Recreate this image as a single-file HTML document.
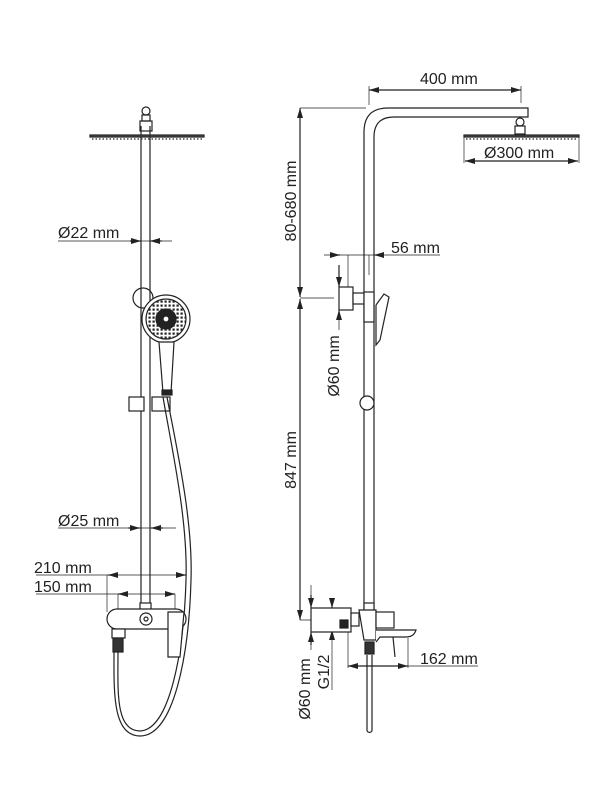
<!DOCTYPE html>
<html><head><meta charset="utf-8"><style>
html,body{margin:0;padding:0;background:#fff}
svg{display:block}
text{font-family:"Liberation Sans",sans-serif;font-size:16px;fill:#222}
</style></head><body>
<svg width="612" height="800" viewBox="0 0 612 800" xmlns="http://www.w3.org/2000/svg">
<defs>
<marker id="a" viewBox="0 0 10 6" refX="10" refY="3" markerWidth="10" markerHeight="6" orient="auto-start-reverse" markerUnits="userSpaceOnUse"><path d="M0,0L10,3L0,6z" fill="#222"/></marker>
<pattern id="dots" width="4" height="4" patternUnits="userSpaceOnUse"><rect width="4" height="4" fill="#fff"/><rect x="0.5" y="0.5" width="2.2" height="2.2" fill="#222"/></pattern>
</defs>
<g fill="none" stroke="#222" stroke-width="1.2">
<line x1="141" y1="126" x2="141" y2="610"/><line x1="150" y1="126" x2="150" y2="610"/>
<circle cx="146" cy="111" r="4"/><rect x="142" y="115" width="8" height="6"/><rect x="140" y="121" width="12" height="10"/>
<rect x="90" y="135" width="114" height="2" fill="#555"/>
<line x1="92" y1="139" x2="202" y2="139" stroke-dasharray="1.5 2"/>
<line x1="58" y1="241" x2="172" y2="241" stroke-width="0.7"/>
<path d="M130,241 L141,241" marker-end="url(#a)"/><path d="M162,241 L150,241" marker-end="url(#a)"/>
<circle cx="143" cy="298" r="10"/>
<circle cx="166" cy="319" r="24" fill="#fff"/>
<circle cx="166" cy="319" r="20" fill="url(#dots)"/>
<circle cx="166" cy="319" r="10" fill="#222"/>
<circle cx="166" cy="319" r="3" fill="#fff"/>
<path d="M159,342 L174,342 L171,393 L163,393 Z" fill="#fff"/>
<rect x="162" y="390" width="10" height="5" fill="#222"/>
<rect x="129" y="397" width="15" height="14" fill="#fff"/><rect x="152" y="397" width="18" height="14" fill="#fff"/>
<path d="M163,397 C172,450 188,520 186,580 C184,650 170,730 140,731 C115,731 118,690 118,652"/>
<path d="M167,397 C177,450 193,520 191,580 C189,655 174,736 140,736 C112,736 114,690 114,652"/>
<line x1="58" y1="528" x2="176" y2="528" stroke-width="0.7"/>
<path d="M128,528 L140,528" marker-end="url(#a)"/><path d="M163,528 L151,528" marker-end="url(#a)"/>
<line x1="36" y1="575" x2="186" y2="575" stroke-width="0.7"/>
<path d="M108,575 L118,575" marker-start="url(#a)"/><path d="M176,575 L186,575" marker-end="url(#a)"/>
<line x1="107" y1="575" x2="107" y2="612" stroke-width="0.7"/>
<line x1="36" y1="594" x2="175" y2="594" stroke-width="0.7"/>
<path d="M118,594 L128,594" marker-start="url(#a)"/><path d="M165,594 L175,594" marker-end="url(#a)"/>
<line x1="118" y1="594" x2="118" y2="612" stroke-width="0.7"/><line x1="175" y1="594" x2="175" y2="612" stroke-width="0.7"/>
<rect x="140" y="603" width="11" height="8" fill="#fff"/>
<rect x="107" y="609" width="79" height="20" rx="10" fill="#fff"/>
<circle cx="146" cy="619" r="6"/><circle cx="146" cy="619" r="2"/>
<path d="M168,612 L184,612 L180,657 L168,657 Z" fill="#fff"/>
<rect x="112" y="629" width="13" height="9" fill="#fff"/>
<rect x="113" y="638" width="10" height="14" fill="#333"/>
<path d="M364,610 L364,132 Q364,108 388,108 L528,108 L528,117 L394,117 Q374,117 374,137 L374,610"/>
<circle cx="520" cy="122" r="4"/><rect x="515" y="126" width="10" height="8"/>
<rect x="464" y="135" width="115" height="2" fill="#555"/>
<line x1="466" y1="139" x2="577" y2="139" stroke-dasharray="1.5 2"/>
<line x1="464" y1="137" x2="464" y2="163" stroke-width="0.7"/><line x1="579" y1="137" x2="579" y2="163" stroke-width="0.7"/>
<path d="M465,161 L578,161" marker-start="url(#a)" marker-end="url(#a)"/>
<path d="M369,90 L521,90" marker-start="url(#a)" marker-end="url(#a)"/>
<line x1="369" y1="86" x2="369" y2="105" stroke-width="0.7"/><line x1="521" y1="86" x2="521" y2="103" stroke-width="0.7"/>
<line x1="300" y1="108" x2="366" y2="108" stroke-width="0.7"/>
<path d="M300,108 L300,297" marker-start="url(#a)" marker-end="url(#a)"/>
<path d="M300,299 L300,620" marker-start="url(#a)" marker-end="url(#a)"/>
<line x1="300" y1="298" x2="334" y2="298" stroke-width="0.7"/>
<line x1="300" y1="620" x2="318" y2="620" stroke-width="0.7"/>
<line x1="324" y1="255" x2="440" y2="255" stroke-width="0.7"/>
<path d="M330,255 L340,255" marker-end="url(#a)"/><path d="M384,255 L374,255" marker-end="url(#a)"/>
<line x1="348" y1="255" x2="348" y2="288" stroke-width="0.7"/><line x1="369" y1="255" x2="369" y2="275" stroke-width="0.7"/>
<path d="M339,265 L339,287" marker-end="url(#a)"/><path d="M339,320 L339,310" marker-end="url(#a)"/>
<line x1="339" y1="310" x2="339" y2="330" stroke-width="0.7"/>
<rect x="339" y="287" width="14" height="23" fill="#fff"/>
<rect x="353" y="293" width="11" height="11" fill="#fff"/>
<rect x="364" y="292" width="10" height="30" fill="#fff"/>
<path d="M376,305 L384,294 L389,297 L380,340 L376,345 L376,305" fill="#fff"/>
<circle cx="367" cy="403" r="7" fill="#fff"/>
<line x1="311" y1="585" x2="311" y2="608" stroke-width="0.7"/>
<path d="M311,595 L311,608" marker-end="url(#a)"/><path d="M311,645 L311,632" marker-end="url(#a)"/>
<line x1="311" y1="632" x2="311" y2="650" stroke-width="0.7"/>
<path d="M332,598 L332,608" marker-end="url(#a)"/><path d="M332,640 L332,630" marker-end="url(#a)"/>
<line x1="332" y1="630" x2="332" y2="690" stroke-width="0.7"/>
<rect x="311" y="608" width="40" height="24" fill="#fff"/>
<rect x="340" y="620" width="8" height="8" fill="#222"/>
<rect x="351" y="613" width="8" height="13" fill="#fff"/>
<rect x="364" y="603" width="10" height="8" fill="#fff"/>
<path d="M359,610 L376,610 L376,640 L364,640 Z" fill="#fff"/>
<rect x="376" y="612" width="18" height="16" fill="#fff"/>
<path d="M376,630 L416,630 Q414,637 406,637 L380,637 L376,642" fill="#fff"/>
<line x1="393" y1="637" x2="395" y2="657"/>
<rect x="365" y="642" width="9" height="12" fill="#333"/>
<line x1="367" y1="655" x2="367" y2="731"/><line x1="372" y1="655" x2="372" y2="731"/>
<path d="M367,731 Q369.5,734 372,731"/>
<line x1="348" y1="632" x2="348" y2="668" stroke-width="0.7"/><line x1="408" y1="638" x2="408" y2="668" stroke-width="0.7"/>
<path d="M348,666 L408,666" marker-start="url(#a)" marker-end="url(#a)"/>
<line x1="408" y1="666" x2="478" y2="666" stroke-width="0.7"/>
</g>
<text x="58" y="238">Ø22 mm</text>
<text x="58" y="526">Ø25 mm</text>
<text x="34" y="573">210 mm</text>
<text x="34" y="592">150 mm</text>
<text x="420" y="84">400 mm</text>
<text x="484" y="158">Ø300 mm</text>
<text x="391" y="253">56 mm</text>
<text x="420" y="664">162 mm</text>
<text transform="translate(296,201) rotate(-90)" text-anchor="middle">80-680 mm</text>
<text transform="translate(296,460) rotate(-90)" text-anchor="middle">847 mm</text>
<text transform="translate(339,366) rotate(-90)" text-anchor="middle">Ø60 mm</text>
<text transform="translate(310,689) rotate(-90)" text-anchor="middle">Ø60 mm</text>
<text transform="translate(329,672) rotate(-90)" text-anchor="middle">G1/2</text>
</svg>
</body></html>
